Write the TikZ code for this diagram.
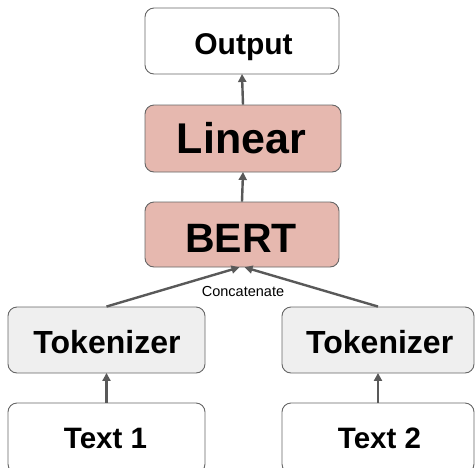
\documentclass[tikz,border=0pt]{standalone}
\usepackage{fontspec}
\setmainfont{Liberation Sans}
\usetikzlibrary{arrows.meta}
\definecolor{pinkfill}{HTML}{E6B8AF}
\definecolor{grayfill}{HTML}{EFEFEF}
\definecolor{edgegray}{HTML}{666666}
\definecolor{arrowgray}{HTML}{595959}
\tikzset{
  blockbox/.style={draw=edgegray, line width=0.9pt, rounded corners=9pt,
    inner sep=0pt},
  whitebox/.style={blockbox, fill=white},
  modelbox/.style={blockbox, fill=pinkfill},
  tokbox/.style={blockbox, fill=grayfill},
  boxtext/.style={anchor=base, inner sep=0pt, font=\bfseries\fontsize{#1}{#1}\selectfont},
  flow/.style={draw=arrowgray, line width=2.4pt,
    -{Triangle[length=8pt,width=8pt]}, shorten >=-0.5pt},
}
\begin{document}
\begin{tikzpicture}[x=1pt,y=-1pt]
  \useasboundingbox (0,0) rectangle (475,467);
  \clip (0,0) rectangle (475,467);

  % upper stack: Output <- Linear <- BERT
  \node[whitebox, minimum width=194pt, minimum height=66pt] (out) at (242,41) {};
  \node[modelbox, minimum width=196pt, minimum height=67pt] (lin) at (243,138.5) {};
  \node[modelbox, minimum width=194pt, minimum height=65pt] (bert) at (242,234.5) {};

  % two input branches
  \node[tokbox, minimum width=197pt, minimum height=66pt] (tokl) at (106.5,340) {};
  \node[tokbox, minimum width=192pt, minimum height=66pt] (tokr) at (378,340) {};
  \node[whitebox, minimum width=197pt, minimum height=70pt] (txtl) at (106.5,438) {};
  \node[whitebox, minimum width=192pt, minimum height=70pt] (txtr) at (378,438) {};

  % box labels
  \node[boxtext=30] (out-t) at (243.5,54.7) {Output};
  \node[boxtext=43] (lin-t) at (241.5,153) {Linear};
  \node[boxtext=41] (bert-t) at (241,252) {BERT};
  \node[boxtext=32] (tokl-t) at (107,353) {Tokenizer};
  \node[boxtext=32] (tokr-t) at (379.7,353) {Tokenizer};
  \node[boxtext=29.5] (txtl-t) at (105.5,448) {Text 1};
  \node[boxtext=29.5] (txtr-t) at (379.5,448) {Text 2};

  % connectors
  \draw[flow] (txtl.north) -- (tokl.south);
  \draw[flow] (txtr.north) -- (tokr.south);
  \coordinate (bertinl) at ([xshift=-3pt]bert.south);
  \coordinate (bertinr) at ([xshift=3pt]bert.south);
  \draw[flow] (tokl.north) -- (bertinl);
  \draw[flow] (tokr.north) -- (bertinr);
  \draw[flow] (bert.north) -- (lin.south);
  \draw[flow] (lin.north) -- (out.south);

  \node[anchor=base, inner sep=0pt, font=\fontsize{14.5}{17}\selectfont] (cat) at (243,296) {Concatenate};
\end{tikzpicture}
\end{document}
